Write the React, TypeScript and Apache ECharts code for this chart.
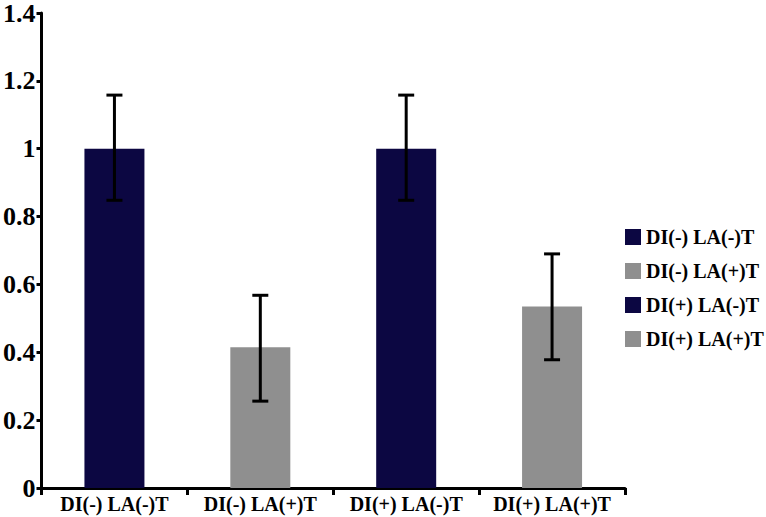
import React, { useEffect, useRef } from "react";
import * as echarts from "echarts";

const categories = ["DI(-) LA(-)T", "DI(-) LA(+)T", "DI(+) LA(-)T", "DI(+) LA(+)T"];
const means = [1.0, 0.415, 1.0, 0.535];
const errLow = [0.848, 0.256, 0.848, 0.378];
const errHigh = [1.158, 0.568, 1.158, 0.69];
const colors = ["#0c0742", "#8f8f8f", "#0c0742", "#8f8f8f"];
const yTicks = { min: 0, max: 1.4, interval: 0.2 };

const FONT = "Liberation Serif";

export default function App() {
  const ref = useRef<HTMLDivElement>(null);
  useEffect(() => {
    if (!ref.current) return;
    const chart = echarts.init(ref.current, undefined, { renderer: "svg" });
    const barSeries = categories.map((name, i) => ({
      name,
      type: "bar",
      stack: "all",
      barWidth: 60,
      itemStyle: { color: colors[i] },
      data: categories.map((_, j) => (j === i ? means[i] : "-")),
    }));
    const errSeries = {
      type: "custom",
      name: "err",
      z: 10,
      data: categories.map((_, i) => [i, errLow[i], errHigh[i]]),
      renderItem: (params: any, api: any) => {
        const x = api.value(0);
        const lo = api.coord([x, api.value(1)]);
        const hi = api.coord([x, api.value(2)]);
        const hw = 8;
        const style = { stroke: "#000", lineWidth: 3 };
        return {
          type: "group",
          children: [
            { type: "line", shape: { x1: lo[0], y1: lo[1], x2: hi[0], y2: hi[1] }, style },
            { type: "line", shape: { x1: hi[0] - hw, y1: hi[1], x2: hi[0] + hw, y2: hi[1] }, style },
            { type: "line", shape: { x1: lo[0] - hw, y1: lo[1], x2: lo[0] + hw, y2: lo[1] }, style },
          ],
        };
      },
    };
    chart.setOption({
      animation: false,
      backgroundColor: "#fff",
      textStyle: { fontFamily: FONT },
      grid: { left: 40, right: 141, top: 8, bottom: 29, containLabel: false },
      legend: {
        orient: "vertical",
        left: 620,
        top: 222,
        itemWidth: 16,
        itemHeight: 16,
        itemGap: 14,
        icon: "rect",
        data: categories,
        textStyle: { fontFamily: FONT, fontWeight: "bold", fontSize: 20, color: "#000" },
      },
      xAxis: {
        type: "category",
        data: categories,
        axisLine: { lineStyle: { color: "#000", width: 3 } },
        axisTick: { show: true, length: 7, lineStyle: { color: "#000", width: 3 } },
        axisLabel: { fontFamily: FONT, fontWeight: "bold", fontSize: 20, color: "#000", margin: 6, interval: 0 },
      },
      yAxis: {
        type: "value",
        min: yTicks.min,
        max: yTicks.max,
        interval: yTicks.interval,
        splitLine: { show: false },
        axisLine: { show: true, lineStyle: { color: "#000", width: 3 } },
        axisTick: { show: true, length: 5, lineStyle: { color: "#000", width: 3 } },
        axisLabel: { fontFamily: FONT, fontWeight: "bold", fontSize: 26, color: "#000", margin: 6 },
      },
      series: [...barSeries, errSeries],
    });
    return () => chart.dispose();
  }, []);
  return <div ref={ref} style={{ width: 766, height: 517, position: "absolute", left: 0, top: 0 }} />;
}
